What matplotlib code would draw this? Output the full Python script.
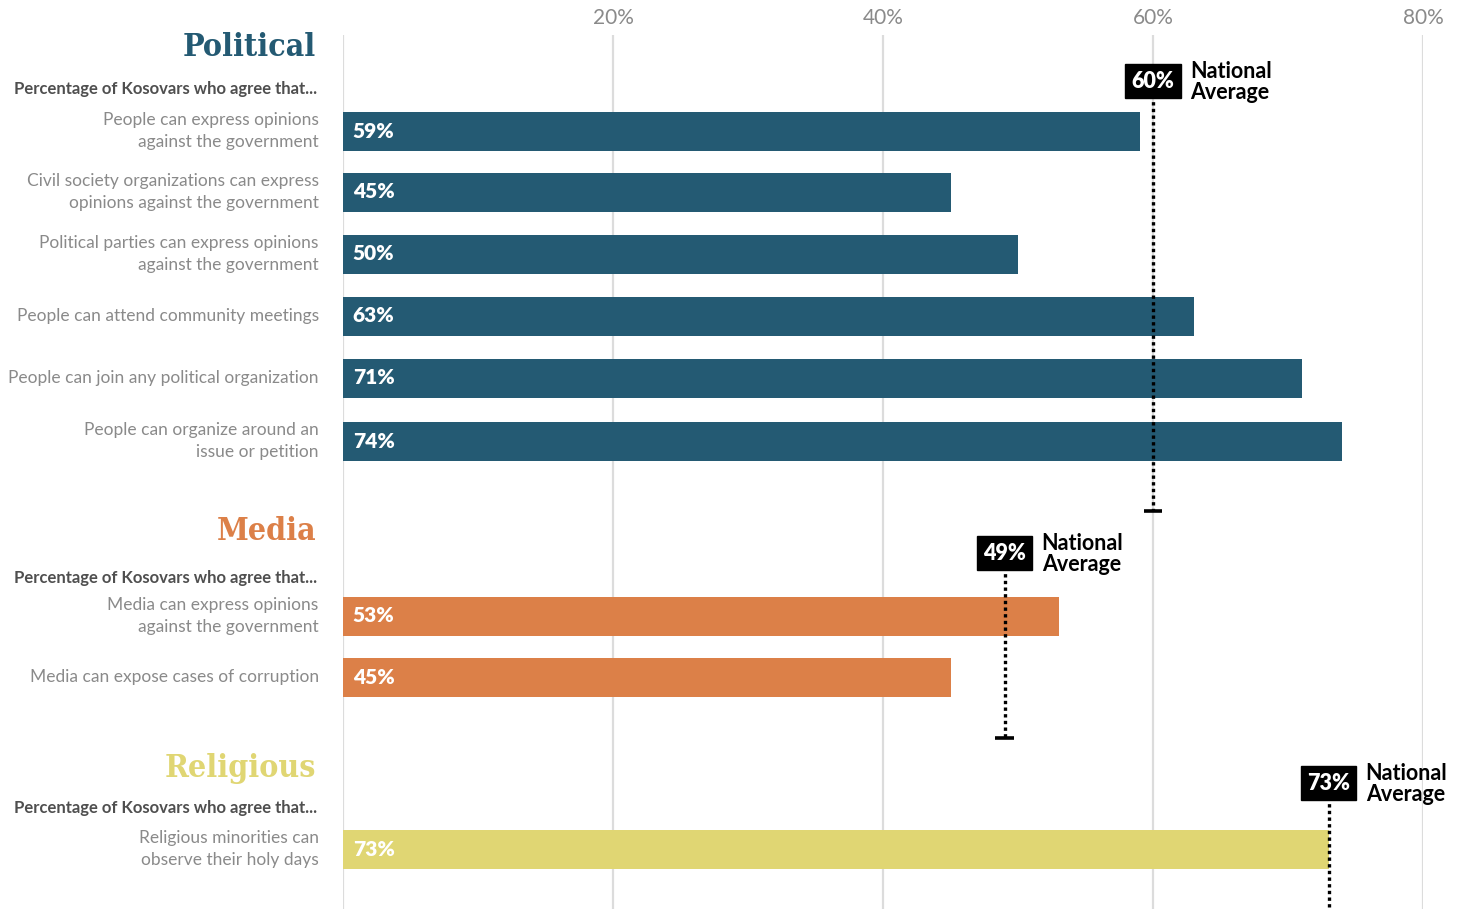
import matplotlib
matplotlib.use("Agg")
import matplotlib.pyplot as plt
from matplotlib import font_manager as fm

# ---- data ----
sections = ["Political", "Media", "Religious"]
section_colors = ["#245a73", "#dc8048", "#e0d673"]
subtitle = "Percentage of Kosovars who agree that..."

political_labels = [
    "People can express opinions\nagainst the government",
    "Civil society organizations can express\nopinions against the government",
    "Political parties can express opinions\nagainst the government",
    "People can attend community meetings",
    "People can join any political organization",
    "People can organize around an\nissue or petition",
]
political_values = [59, 45, 50, 63, 71, 74]

media_labels = [
    "Media can express opinions\nagainst the government",
    "Media can expose cases of corruption",
]
media_values = [53, 45]

religious_labels = ["Religious minorities can\nobserve their holy days"]
religious_values = [73]

national_avg = [60, 49, 73]

tick_values = [20, 40, 60, 80]
tick_labels = ["20%", "40%", "60%", "80%"]

# ---- layout (pixel rows from top of figure) ----
W, H = 1465, 909
bar_rows = [[131, 192, 254, 316, 378, 441], [616, 677], [849]]
title_rows = [47, 532, 769]
subtitle_rows = [89, 578, 808]
avg_box_rows = [81, 553, 783]
avg_end_rows = [511, 738, None]
bar_h = 39

fig = plt.figure(figsize=(W / 100, H / 100), dpi=100)
ax_left = 343 / W
ax_w = 1080 / W
ax_top = 35
ax = fig.add_axes([ax_left, 0, ax_w, (H - ax_top) / H])
ax.set_xlim(0, 80)
ax.set_ylim(H, ax_top)

for s in ax.spines.values():
    s.set_visible(False)
ax.xaxis.tick_top()
ax.set_xticks(tick_values)
ax.set_xticklabels(tick_labels)
ax.tick_params(axis="x", length=0, pad=5, labelsize=15, labelcolor="#8a8a8a")
for lab in ax.get_xticklabels():
    lab.set_fontfamily("Lato")
ax.set_yticks([])
for gx in [0] + tick_values:
    ax.axvline(gx, color="#dcdcdc", lw=1.6, zorder=0)

all_labels = [political_labels, media_labels, religious_labels]
all_values = [political_values, media_values, religious_values]

title_font = fm.FontProperties(family="DejaVu Serif", weight="bold",
                               stretch="condensed", size=23)

label_x = -1.8  # data units, right edge of category labels
for i, sec in enumerate(sections):
    color = section_colors[i]
    ax.text(label_x - 0.2, title_rows[i], sec, ha="right", va="center",
            fontproperties=title_font, color=color, clip_on=False)
    ax.text(label_x - 0.1, subtitle_rows[i], subtitle, ha="right", va="center",
            fontsize=12.0, fontweight="bold", family="Lato", color="#4f4f4f",
            clip_on=False)
    ax.barh(bar_rows[i], all_values[i], height=bar_h, color=color,
            left=0, zorder=2)
    for y, v, lab in zip(bar_rows[i], all_values[i], all_labels[i]):
        ax.text(0.72, y, f"{v}%", ha="left", va="center", fontsize=15,
                fontweight="heavy", family="Lato", color="white", zorder=3)
        ax.text(label_x, y, lab, ha="right", va="center", fontsize=12.5,
                family="Lato", color="#8a8a8a", linespacing=1.45,
                clip_on=False)

    # national average marker
    avg = national_avg[i]
    by = avg_box_rows[i]
    end = avg_end_rows[i] if avg_end_rows[i] is not None else H
    ax.plot([avg, avg], [by + 14, end], color="black", lw=2.4,
            linestyle=(0, (1, 1)), zorder=4, clip_on=False)
    if avg_end_rows[i] is not None:
        ax.plot([avg - 0.7, avg + 0.7], [end, end], color="black", lw=2.6,
                zorder=4, solid_capstyle="butt")
    ax.text(avg, by, f"{avg}%", ha="center", va="center", fontsize=15.5,
            fontweight="heavy", family="Lato", color="white", zorder=6,
            bbox=dict(boxstyle="square,pad=0.3", fc="black", ec="black"))
    ax.text(avg + 2.75, by + 1, "National\nAverage", ha="left", va="center",
            fontsize=15.5, fontweight="bold", family="Lato", color="black",
            linespacing=0.98, zorder=6, clip_on=False)

fig.savefig("out.png", dpi=100)
